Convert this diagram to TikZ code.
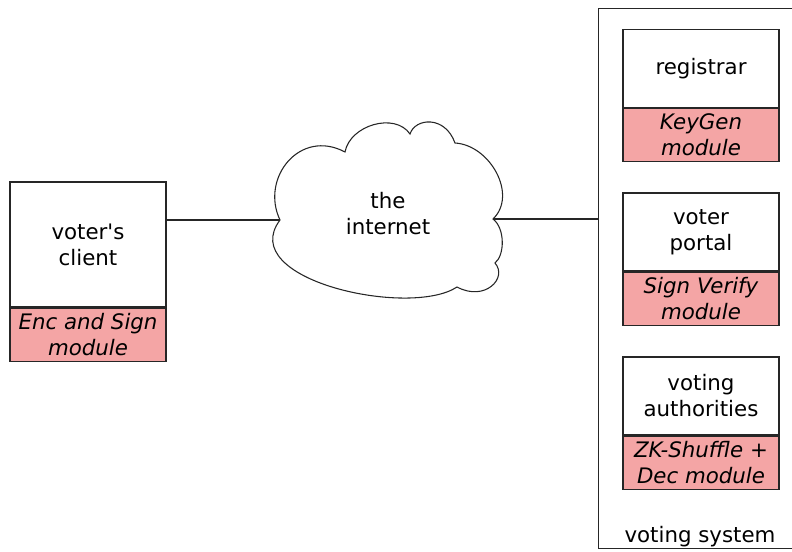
\documentclass[tikz,border=0pt]{standalone}
\usepackage{fontspec}
\setmainfont{DejaVu Sans}
\usetikzlibrary{positioning}
\definecolor{modpink}{HTML}{F4A5A5}
\begin{document}
\begin{tikzpicture}[x=0.75pt, y=-0.75pt, line width=0.8pt,
  every node/.style={font=\fontsize{16}{19.5}\selectfont, align=center},
  partbox/.style={draw=black!85, fill=white, minimum width=117pt, minimum height=58.5pt, inner sep=0pt},
  modbox/.style={draw=black!85, fill=modpink, minimum width=117pt, minimum height=39.75pt, inner sep=0pt, font=\fontsize{16}{19.5}\selectfont\itshape},
  link/.style={draw=black!85}]
  \useasboundingbox (0,0) rectangle (792,551);
  % Voting system frame
  \node[draw=black!85, anchor=north west, minimum width=151.5pt, minimum height=405pt, inner sep=0pt] (sys) at (598,8) {};
  \node (syslabel) at (700,537) {voting system};
  % Voter side
  \node[partbox, minimum height=93.75pt] (client) at (88,244.5) {voter\textquotesingle s\\client};
  \node[modbox, below=0pt of client] (clientmod) {Enc and Sign\\module};
  % Cloud
  \draw[draw=black!85, fill=white] (280,220)
    .. controls (260,178) and (300,128) .. (345,152)
    .. controls (350,125) and (395,112) .. (410,134)
    .. controls (415,118) and (445,115) .. (455,143)
    .. controls (490,145) and (518,195) .. (493,219)
    .. controls (505,228) and (505,255) .. (495,263)
    .. controls (508,278) and (485,302) .. (457,287)
    .. controls (410,318) and (235,280) .. cycle;
  \coordinate (netW) at (280,220);
  \coordinate (netE) at (493,219);
  \node (net) at (388,214) {the\\internet};
  % Parts of the voting system
  \node[partbox] (reg) at (701,68.5) {registrar};
  \node[modbox, below=0pt of reg] (regmod) {KeyGen\\module};
  \node[partbox] (portal) at (701,232) {voter\\portal};
  \node[modbox, below=0pt of portal] (portalmod) {Sign Verify\\module};
  \node[partbox] (auth) at (701,396) {voting\\authorities};
  \node[modbox, below=0pt of auth] (authmod) {ZK-Shuffle +\\Dec module};
  % Connections
  \draw[link] (netW -| client.east) -- (netW);
  \draw[link] (netE) -- (netE -| sys.west);
\end{tikzpicture}
\end{document}
